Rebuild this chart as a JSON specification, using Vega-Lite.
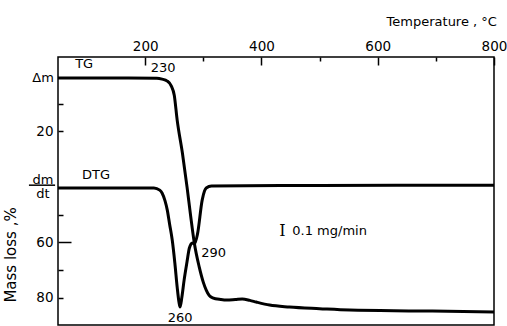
{
  "$schema": "https://vega.github.io/schema/vega-lite/v6.json",
  "width": 436,
  "height": 268,
  "autosize": {"type": "none"},
  "padding": {"left": 58, "top": 57, "right": 13, "bottom": 1},
  "background": "white",
  "config": {
    "view": {"stroke": "black", "strokeWidth": 1.5},
    "font": "DejaVu Sans",
    "text": {"font": "DejaVu Sans", "color": "black"}
  },
  "datasets": {
    "tg": [
      {"T": 50, "m": 0.7}, {"T": 150, "m": 0.7}, {"T": 220, "m": 0.8}, {"T": 229, "m": 1.1},
      {"T": 238, "m": 1.8}, {"T": 245, "m": 3.6}, {"T": 250, "m": 6.9}, {"T": 255, "m": 15.9},
      {"T": 264, "m": 27.8}, {"T": 272, "m": 40.1}, {"T": 278, "m": 50.2}, {"T": 284.5, "m": 60.3},
      {"T": 293, "m": 69}, {"T": 300, "m": 74.5}, {"T": 305, "m": 77.3}, {"T": 310, "m": 79.2},
      {"T": 316, "m": 80.1}, {"T": 330, "m": 80.7}, {"T": 340, "m": 80.9}, {"T": 355, "m": 80.7},
      {"T": 367, "m": 80.5}, {"T": 380, "m": 81}, {"T": 391, "m": 81.6}, {"T": 414, "m": 82.7},
      {"T": 448, "m": 83.4}, {"T": 500, "m": 84}, {"T": 552, "m": 84.5}, {"T": 672, "m": 84.8},
      {"T": 800, "m": 85.2}
    ],
    "dtg": [
      {"T": 50, "m": 40.4}, {"T": 215, "m": 40.4}, {"T": 225, "m": 41.2}, {"T": 229, "m": 42.2},
      {"T": 234, "m": 45}, {"T": 238, "m": 48.4}, {"T": 242, "m": 53.5}, {"T": 246.5, "m": 59.2},
      {"T": 251, "m": 67.5}, {"T": 255, "m": 76.2}, {"T": 258, "m": 81.5}, {"T": 260, "m": 83.4},
      {"T": 263, "m": 80}, {"T": 267, "m": 73.6}, {"T": 272, "m": 67}, {"T": 276, "m": 62.1},
      {"T": 281, "m": 60.3}, {"T": 285, "m": 60.5}, {"T": 290, "m": 57}, {"T": 298, "m": 44.8},
      {"T": 302, "m": 41.5}, {"T": 305, "m": 40.4}, {"T": 314, "m": 39.7}, {"T": 500, "m": 39.5},
      {"T": 800, "m": 39.4}
    ],
    "centerLabels": [
      {"T": 95, "m": -4.3, "text": "TG"},
      {"T": 231, "m": -2.9, "text": "230"},
      {"T": 115.5, "m": 35.7, "text": "DTG"},
      {"T": 260, "m": 87.4, "text": "260"}
    ],
    "numerator": [{"T": 24, "m": 38.9, "text": "dm"}],
    "denominator": [{"T": 24, "m": 40.3, "text": "dt"}],
    "leftLabels": [
      {"T": 296.5, "m": 63.9, "text": "290"},
      {"T": 453, "m": 56, "text": "0.1 mg/min"}
    ],
    "rightLabels": [
      {"T": 43, "m": 0.7, "text": "Δm"},
      {"T": 805, "m": -19.5, "text": "Temperature , °C"}
    ],
    "bar": [{"T": 0, "T2": 45, "m": 39.4}],
    "scalebar": [{"T": 436, "m": 56, "text": "I"}],
    "ytitle": [{"T": -31, "m": 64.6, "text": "Mass loss ,%"}]
  },
  "encoding": {
    "x": {
      "field": "T", "type": "quantitative",
      "scale": {"domain": [50, 800], "nice": false, "zero": false},
      "axis": {
        "orient": "top", "title": null, "grid": false, "domain": false,
        "values": [200, 300, 400, 500, 600, 700, 800],
        "labelExpr": "datum.value % 200 === 0 ? datum.label : ''",
        "tickSize": {"condition": {"test": "datum.value % 200 === 0", "value": -8}, "value": -4},
        "tickColor": "black", "tickWidth": 1.5,
        "labelFont": "DejaVu Sans", "labelFontSize": 13.5, "labelColor": "black",
        "labelPadding": 12, "labelFlush": false
      }
    },
    "y": {
      "field": "m", "type": "quantitative",
      "scale": {"domain": [-6.9, 89.9], "nice": false, "zero": false, "reverse": true},
      "axis": {
        "orient": "left", "title": null, "grid": false, "domain": false,
        "values": [10, 20, 50, 60, 70, 80],
        "labelExpr": "datum.value == 20 || datum.value == 60 || datum.value == 80 ? datum.label : ''",
        "tickSize": {"condition": {"test": "datum.value == 60", "value": -13}, "value": -5},
        "labelPadding": {"condition": {"test": "datum.value == 60", "value": 18}, "value": 10},
        "tickColor": "black", "tickWidth": 1.5,
        "labelFont": "DejaVu Sans", "labelFontSize": 13.5, "labelColor": "black",
        "labelFlush": false
      }
    }
  },
  "layer": [
    {"data": {"name": "tg"}, "mark": {"type": "line", "color": "black", "strokeWidth": 3, "interpolate": "monotone", "clip": false}},
    {"data": {"name": "dtg"}, "mark": {"type": "line", "color": "black", "strokeWidth": 3, "interpolate": "monotone", "clip": false}},
    {"data": {"name": "centerLabels"}, "mark": {"type": "text", "align": "center", "baseline": "middle", "fontSize": 13}, "encoding": {"text": {"field": "text"}}},
    {"data": {"name": "numerator"}, "mark": {"type": "text", "align": "center", "baseline": "alphabetic", "fontSize": 13}, "encoding": {"text": {"field": "text"}}},
    {"data": {"name": "denominator"}, "mark": {"type": "text", "align": "center", "baseline": "top", "fontSize": 13}, "encoding": {"text": {"field": "text"}}},
    {"data": {"name": "leftLabels"}, "mark": {"type": "text", "align": "left", "baseline": "middle", "fontSize": 13}, "encoding": {"text": {"field": "text"}}},
    {"data": {"name": "rightLabels"}, "mark": {"type": "text", "align": "right", "baseline": "middle", "fontSize": 13}, "encoding": {"text": {"field": "text"}}},
    {"data": {"name": "scalebar"}, "mark": {"type": "text", "align": "center", "baseline": "middle", "fontSize": 16, "font": "DejaVu Serif"}, "encoding": {"text": {"field": "text"}}},
    {"data": {"name": "ytitle"}, "mark": {"type": "text", "align": "center", "baseline": "middle", "fontSize": 15, "angle": 270}, "encoding": {"text": {"field": "text"}}},
    {"data": {"name": "bar"}, "mark": {"type": "rule", "color": "black", "strokeWidth": 1.5}, "encoding": {"x2": {"field": "T2"}}}
  ]
}
